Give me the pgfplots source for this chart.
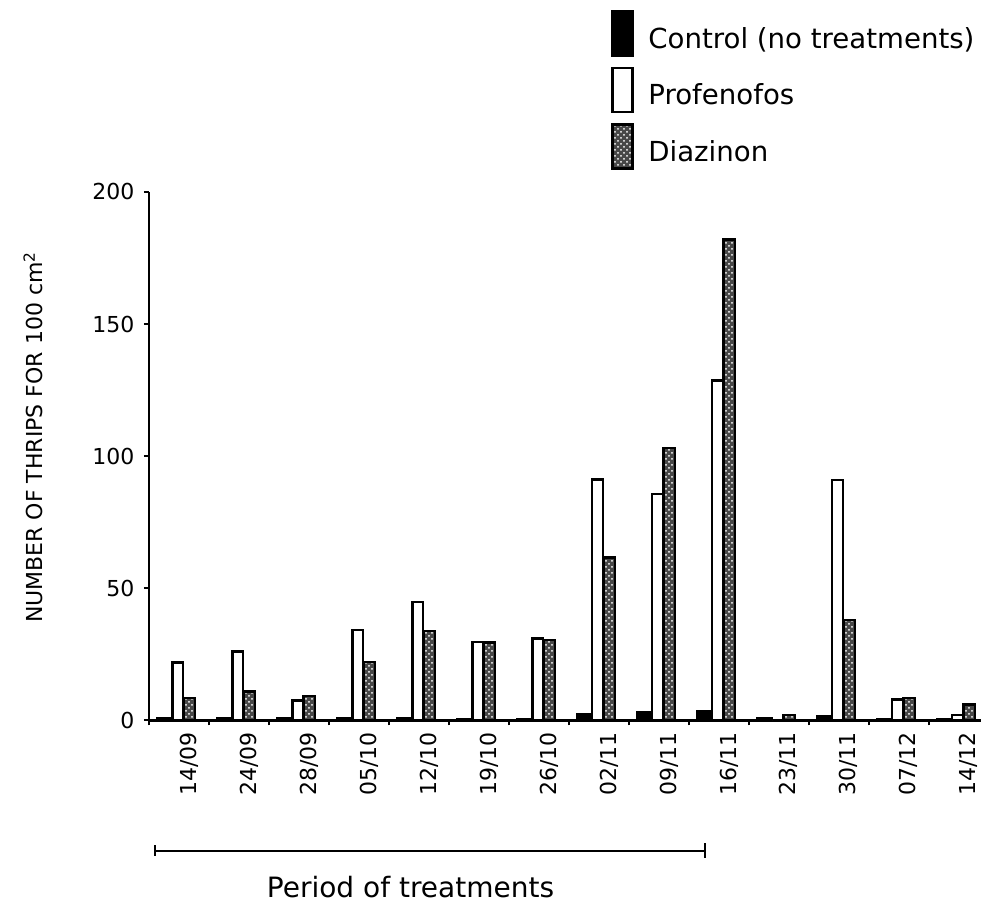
\documentclass[border=0pt]{standalone}
\usepackage{pgfplots}
\pgfplotsset{compat=1.18}
\usepackage{pgfplotstable}
\usepackage{fontspec}
\setmainfont{DejaVu Sans}
\usetikzlibrary{patterns}

\pgfplotsset{boxlegend/.style={legend image code/.code={\draw[##1] (0pt,-8pt) rectangle (10pt,14pt);}}}

\pgfplotstableread{
x c p d
0 0.8 22.0 8.4
1 0.7 26.1 10.9
2 0.7 7.5 9.3
3 0.8 34.2 22.2
4 0.8 44.8 33.8
5 0.6 29.8 29.5
6 0.3 31.0 30.4
7 2.5 91.2 61.7
8 3.0 85.8 103.2
9 3.4 128.7 182.0
10 1.0 0 2.0
11 1.5 91.0 38.0
12 0.5 8.0 8.5
13 0.3 2.0 6.0
}\data

\begin{document}
\begin{tikzpicture}
\path[use as bounding box] (-74.5pt,-91.25pt) rectangle (416.5pt,360.25pt);
\begin{axis}[
  at={(0,0)}, anchor=south west,
  scale only axis, width=416pt, height=264.25pt,
  xmin=-0.5, xmax=13.37, ymin=0, ymax=200,
  axis x line=bottom, axis y line=left,
  axis line style={line width=1.2pt, -},
  tick align=outside, major tick length=2.5pt,
  tick style={line width=1pt, black},
  /pgf/number format/assume math mode=true,
  ticklabel style={font=\fontsize{11}{13}\selectfont},
  ytick={0,50,100,150,200},
  yticklabels={0,50,100,150,200},
  yticklabel style={xshift=-1.3pt},
  xtick={-0.5,0.5,...,12.5},
  xticklabels={},
  extra x ticks={0,1,2,3,4,5,6,7,8,9,10,11,12,13},
  extra x tick labels={14/09,24/09,28/09,05/10,12/10,19/10,26/10,02/11,09/11,16/11,23/11,30/11,07/12,14/12},
  extra x tick style={tick style={draw=none},
    xticklabel style={rotate=90, anchor=east, yshift=-5pt, font=\fontsize{11}{13}\selectfont}},
  ylabel={NUMBER OF THRIPS FOR 100 cm\textsuperscript{2}},
  ylabel style={at={(axis description cs:-0.139,0.536)}, anchor=center, font=\fontsize{11}{13}\selectfont},
  legend style={at={(axis description cs:0.5553,1.3444)}, anchor=north west,
    draw=none, fill=none, inner sep=0pt, row sep=5pt, column sep=7.3pt,
    font=\fontsize{13.8}{16}\selectfont, nodes={inner sep=0pt}},
  legend cell align=left,
  clip=false,
]
\addplot[ybar, bar width=0.25, bar shift=-0.235, fill=black, draw=black, line width=1.2pt, boxlegend]
  table[x=x, y=c]{\data};
\addlegendentry{Control (no treatments)}
\addplot[ybar, bar width=0.18, bar shift=-0.02, fill=white, draw=black, line width=1.2pt, boxlegend]
  table[x=x, y=p]{\data};
\addlegendentry{Profenofos}
\addplot[ybar, bar width=0.19, bar shift=0.17, fill=black!72, draw=black, line width=1.2pt,
  postaction={pattern=crosshatch dots, pattern color=white}, boxlegend]
  table[x=x, y=d]{\data};
\addlegendentry{Diazinon}
\end{axis}
\draw[line width=1.2pt] (3pt,-65.25pt) -- (278pt,-65.25pt);
\draw[line width=1.2pt] (3pt,-62.5pt) -- (3pt,-68pt);
\draw[line width=1.2pt] (278pt,-61.5pt) -- (278pt,-69pt);
\node[font=\fontsize{14}{16}\selectfont, inner sep=1pt] at (130.75pt,-83.5pt) {Period of treatments};
\end{tikzpicture}
\end{document}
